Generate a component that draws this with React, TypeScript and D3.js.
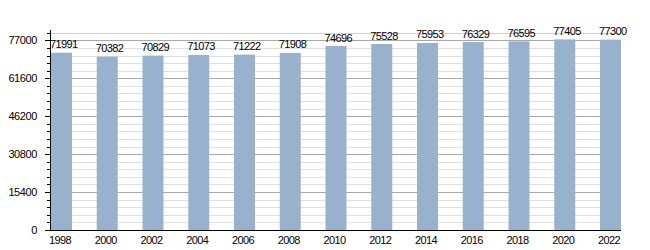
import React from "react";
import * as d3 from "d3";

const years: string[] = ["1998","2000","2002","2004","2006","2008","2010","2012","2014","2016","2018","2020","2022"];
const population: number[] = [71991,70382,70829,71073,71222,71908,74696,75528,75953,76329,76595,77405,77300];
const yMajorTicks: number[] = [0,15400,30800,46200,61600,77000];
const yMax = 80000;
const minorStep = 3080;

const W = 650, H = 250;
const FONT = "'Liberation Sans', Arial, Helvetica, sans-serif";

export default function App() {
  const x = d3.scaleBand<string>().domain(years).range([51, 621]).paddingInner(0.541).paddingOuter(0);
  const y = d3.scaleLinear().domain([0, yMax]).range([230, 33]);
  const minor = d3.range(0, yMax, minorStep).filter(v => v % 15400 !== 0);
  const x0 = 50, x1 = 621;

  return (
    <svg width={W} height={H} style={{ position: "absolute", left: 0, top: 0, background: "#fff" }} fontFamily={FONT}>
      {minor.map(v => (
        <line key={"mg" + v} x1={x0} x2={x1} y1={Math.round(y(v)) + 0.5} y2={Math.round(y(v)) + 0.5} stroke="#e0e0e0" strokeWidth={1} />
      ))}
      <line x1={x0} x2={x1} y1={Math.round(y(yMax)) + 0.5} y2={Math.round(y(yMax)) + 0.5} stroke="#d0d0d0" strokeWidth={1} />
      {yMajorTicks.filter(v => v > 0).map(v => (
        <line key={"Mg" + v} x1={x0} x2={x1} y1={Math.round(y(v)) + 0.5} y2={Math.round(y(v)) + 0.5} stroke="#a8a8a8" strokeWidth={1} />
      ))}
      {years.map((yr, i) => (
        <rect key={"b" + yr} x={x(yr)} y={y(population[i])} width={x.bandwidth()} height={y(0) - y(population[i])} fill="#98b1cc" />
      ))}
      {years.map((yr, i) => (
        <text key={"v" + yr} x={(x(yr) as number) - 1} y={y(population[i]) - 4.5} fontSize={11} letterSpacing={-0.6} fill="#000">{population[i]}</text>
      ))}
      <line x1={50.5} x2={50.5} y1={30} y2={230.5} stroke="#000" strokeWidth={1} />
      {minor.concat([yMax]).map(v => (
        <line key={"mt" + v} x1={47} x2={50.5} y1={Math.round(y(v)) + 0.5} y2={Math.round(y(v)) + 0.5} stroke="#000" strokeWidth={1} />
      ))}
      {yMajorTicks.map(v => (
        <line key={"Mt" + v} x1={45} x2={50.5} y1={Math.round(y(v)) + 0.5} y2={Math.round(y(v)) + 0.5} stroke="#000" strokeWidth={1} />
      ))}
      {yMajorTicks.map(v => (
        <text key={"yl" + v} x={37} y={y(v) + 4} fontSize={11} letterSpacing={-0.4} textAnchor="end" fill="#000">{v}</text>
      ))}
      <line x1={45} x2={x1} y1={230.5} y2={230.5} stroke="#000" strokeWidth={1} />
      {years.map(yr => (
        <text key={"xl" + yr} x={(x(yr) as number) + x.bandwidth() / 2 - 1.5} y={244} fontSize={11} letterSpacing={-0.6} textAnchor="middle" fill="#000">{yr}</text>
      ))}
    </svg>
  );
}
